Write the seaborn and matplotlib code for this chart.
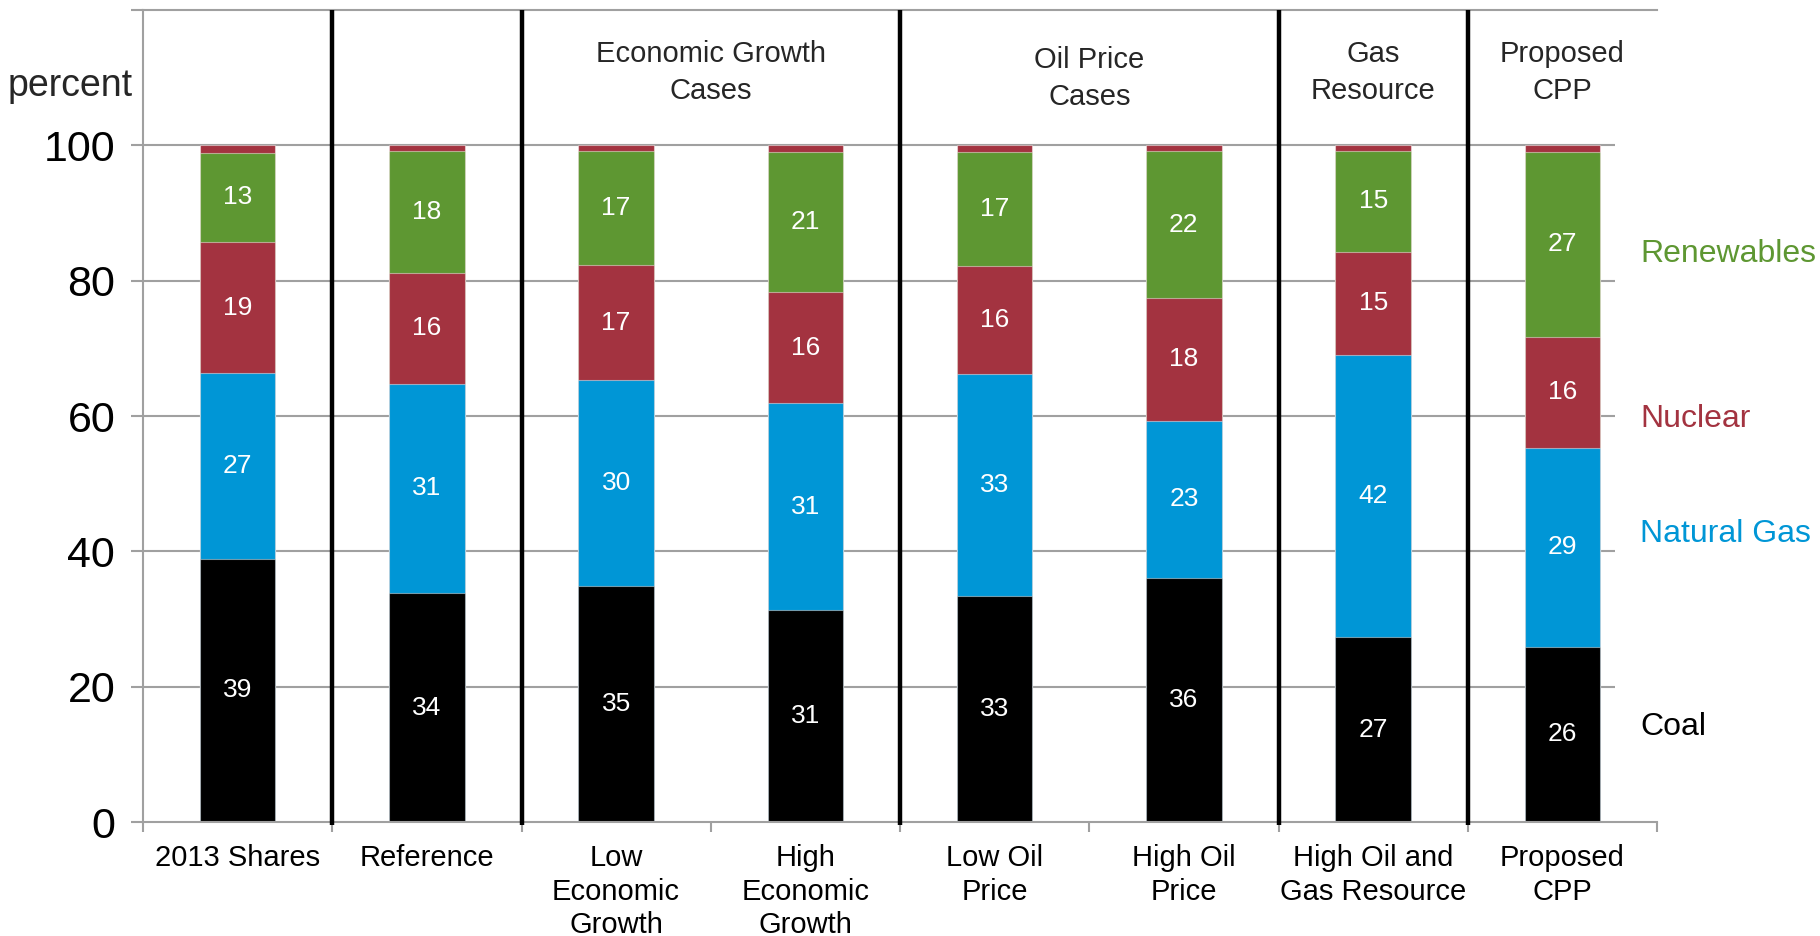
import matplotlib
matplotlib.use("Agg")
import matplotlib.pyplot as plt
import numpy as np
import pandas as pd
import seaborn as sns

# Electricity generation shares by fuel, percent
cases = ["2013 Shares", "Reference", "Low\nEconomic\nGrowth", "High\nEconomic\nGrowth",
         "Low Oil\nPrice", "High Oil\nPrice", "High Oil and\nGas Resource", "Proposed\nCPP"]
coal = [38.9, 33.8, 34.9, 31.3, 33.4, 36.1, 27.3, 25.9]
natural_gas = [27.4, 31.0, 30.4, 30.6, 32.8, 23.2, 41.7, 29.4]
nuclear = [19.4, 16.4, 17.0, 16.4, 16.0, 18.2, 15.3, 16.4]
renewables = [13.2, 18.0, 16.8, 20.7, 16.8, 21.6, 14.8, 27.3]
other = [1.1, 0.8, 0.9, 1.0, 1.0, 0.9, 0.9, 1.0]

fuel_names = ["Coal", "Natural Gas", "Nuclear", "Renewables", "Other"]
fuel_colors = ["#000000", "#0096D6", "#A33340", "#5E9732", "#A33340"]
legend_y = [14.1, 42.5, 59.5, 84.0]

group_titles = ["Economic Growth\nCases", "Oil Price\nCases", "Gas\nResource", "Proposed\nCPP"]
group_x = [2.5, 4.5, 6.0, 7.0]
group_y = [110.8, 109.9, 110.8, 110.8]
separators = [0.5, 1.5, 3.5, 5.5, 6.5]

sns.set_theme(style="white")
plt.rcParams["font.family"] = ["Liberation Sans", "DejaVu Sans"]

layers = [coal, natural_gas, nuclear, renewables, other]
df = pd.DataFrame({"case": cases})
cum = np.zeros(len(cases))
for name, vals in zip(fuel_names, layers):
    cum = cum + np.array(vals)
    df[name] = cum.copy()

fig = plt.figure(figsize=(18.2, 9.36), dpi=100)
ax = fig.add_axes([143 / 1820, 1 - 822 / 936, (1657 - 143) / 1820, (822 - 10) / 936])

# Draw cumulative totals from the top layer downwards so each segment stays visible
for name, color in reversed(list(zip(fuel_names, fuel_colors))):
    sns.barplot(data=df, x="case", y=name, order=cases, color=color, width=0.4,
                saturation=1, edgecolor=(1, 1, 1, 0.45), linewidth=0.8, ax=ax, zorder=2)

# Segment value labels
bottoms = np.zeros(len(cases))
for vals in layers[:4]:
    for i, v in enumerate(vals):
        ax.text(i, bottoms[i] + v / 2, f"{round(v)}", ha="center", va="center",
                color="white", fontsize=19, zorder=5)
    bottoms = bottoms + np.array(vals)

ax.set_xlim(-0.5, 7.5)
ax.set_ylim(0, 120)
ax.set_xlabel("")
ax.set_ylabel("")

grid_color = "#a0a0a0"
ax.hlines([20, 40, 60, 80, 100], -0.5, 7.28, color=grid_color, lw=1.5, zorder=0.5)

for s in ["left", "bottom", "top"]:
    ax.spines[s].set_color(grid_color)
    ax.spines[s].set_linewidth(1.5)
ax.spines["right"].set_visible(False)

ax.set_yticks([0, 20, 40, 60, 80, 100, 120])
ax.set_yticklabels(["0", "20", "40", "60", "80", "100", ""])
ax.tick_params(axis="y", left=True, length=9, width=1.5, color=grid_color,
               labelsize=31, pad=11, labelcolor="black")

ax.set_xticks(range(len(cases)))
ax.set_xticklabels(cases, linespacing=1.25)
ax.tick_params(axis="x", which="major", bottom=True, length=0, labelsize=21, pad=16,
               labelcolor="black")
ax.set_xticks(np.arange(-0.5, 8, 1.0), minor=True)
ax.tick_params(axis="x", which="minor", bottom=True, length=7, width=1.5, color=grid_color)

ax.vlines(separators, -0.4, 120, color="black", lw=3.2, zorder=4, clip_on=False)

for title, gx, gy in zip(group_titles, group_x, group_y):
    ax.text(gx, gy, title, ha="center", va="center", fontsize=21, linespacing=1.4)

for name, color, ly in zip(fuel_names[:4], fuel_colors[:4], legend_y):
    ax.text(7.41, ly, name, ha="left", va="center", fontsize=23, color=color, clip_on=False)

fig.text(133 / 1820, 1 - 86 / 936, "percent", ha="right", va="center", fontsize=27)

fig.savefig("out.png", dpi=100, facecolor="white")
